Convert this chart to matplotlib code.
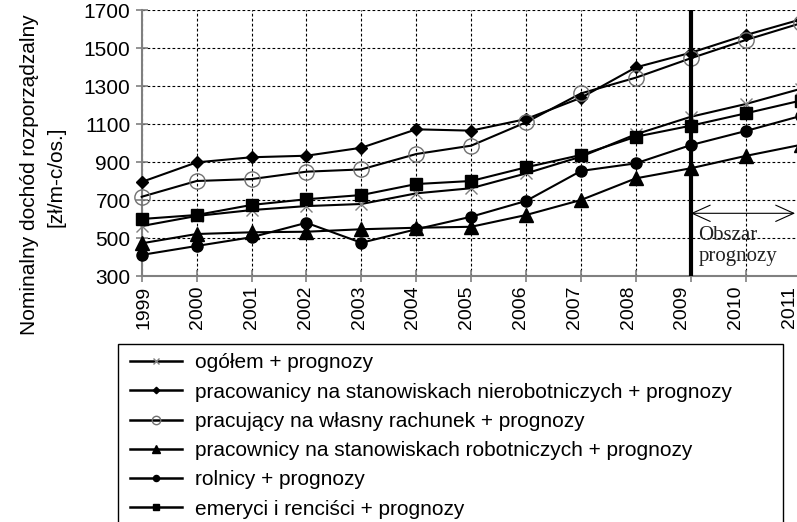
import matplotlib
matplotlib.use("Agg")
import matplotlib.pyplot as plt
import matplotlib.transforms as mtransforms
from matplotlib.patches import Rectangle
from matplotlib.lines import Line2D

years = [1999, 2000, 2001, 2002, 2003, 2004, 2005, 2006, 2007, 2008, 2009, 2010, 2011]
ogolem = [563, 616, 647, 668, 679, 735, 762, 840, 928, 1046, 1138, 1205, 1285]
nierobotnicy = [795, 898, 925, 933, 975, 1072, 1065, 1126, 1238, 1398, 1475, 1568, 1650]
wlasny = [717, 800, 810, 849, 861, 942, 986, 1109, 1261, 1344, 1446, 1542, 1630]
robotnicy = [472, 521, 530, 533, 546, 554, 559, 621, 700, 814, 867, 932, 990]
rolnicy = [411, 458, 504, 580, 475, 546, 612, 695, 853, 893, 989, 1063, 1142]
emeryci = [600, 621, 674, 704, 726, 784, 800, 872, 937, 1033, 1091, 1156, 1223]
labels = [
    "ogółem + prognozy",
    "pracowanicy na stanowiskach nierobotniczych + prognozy",
    "pracujący na własny rachunek + prognozy",
    "pracownicy na stanowiskach robotniczych + prognozy",
    "rolnicy + prognozy",
    "emeryci i renciści + prognozy",
]
yticks = [300, 500, 700, 900, 1100, 1300, 1500, 1700]
forecast_year = 2009

W, H = 797, 522
fig = plt.figure(figsize=(W / 100, H / 100), dpi=100)
plt.rcParams['font.family'] = ['Liberation Sans', 'DejaVu Sans']

left_px, right_px = 141.7, 800.6
top_px, bottom_px = 10, 276
ax = fig.add_axes([left_px / W, 1 - bottom_px / H, (right_px - left_px) / W, (bottom_px - top_px) / H])
ax.set_xlim(years[0], years[-1])
ax.set_ylim(yticks[0], yticks[-1])

styles = [
    dict(marker='x', ms=9, mec='#808080', mfc='#808080', mew=1.0),
    dict(marker='D', ms=6, mec='black', mfc='black'),
    dict(marker='o', ms=11, mec='#707070', mfc='none', mew=1.0),
    dict(marker='^', ms=10, mec='black', mfc='black'),
    dict(marker='o', ms=8, mec='black', mfc='black'),
    dict(marker='s', ms=8.5, mec='black', mfc='black'),
]
series = [ogolem, nierobotnicy, wlasny, robotnicy, rolnicy, emeryci]
handles = []
for vals, st, lab in zip(series, styles, labels):
    ax.plot(years, vals, color='black', lw=1.5, zorder=3, clip_on=False, **st)
    hs = dict(st)
    hs['ms'] = st['ms'] * 0.55
    handles.append(Line2D([], [], color='black', lw=1.8, label=lab, **hs))

ax.set_xticks(years)
ax.set_yticks(yticks)
ax.set_xticklabels([str(y) for y in years], rotation=90, fontsize=14)
ax.set_yticklabels([str(v) for v in yticks], fontsize=15)
ax.grid(True, color='black', linestyle=(0, (2.5, 2)), lw=0.8)
ax.set_axisbelow(True)
for s in ['top', 'right']:
    ax.spines[s].set_visible(False)
for s in ['left', 'bottom']:
    ax.spines[s].set_color('#808080')
    ax.spines[s].set_linewidth(1.5)
ax.tick_params(axis='both', direction='inout', length=8, color='#808080', width=1.2)
ax.tick_params(axis='y', pad=4)
ax.tick_params(axis='x', pad=3)

# tick label spacing slightly tighter than the ticks (as in reference)
for k, lab in enumerate(ax.get_xticklabels()):
    dx = (2.5 - 1.15 * k) / 100.0
    lab.set_transform(lab.get_transform() + mtransforms.ScaledTranslation(dx, 0, fig.dpi_scale_trans))

# forecast marker
ax.axvline(forecast_year, color='black', lw=3, zorder=4)
ax.annotate('', xy=(forecast_year, 630), xytext=(2010.9, 630),
            arrowprops=dict(arrowstyle='<->,head_length=1.0,head_width=0.45', lw=0.8, color='black',
                            shrinkA=0, shrinkB=0, mutation_scale=13), annotation_clip=False)
ax.text(forecast_year + 0.14, 565, 'Obszar\nprognozy', family='Liberation Serif', fontsize=15,
        ha='left', va='top', linespacing=1.2, color='#222222', zorder=5)

# y label
fig.text(30 / W, 1 - 175 / H, 'Nominalny dochód rozporządzalny', rotation=90, ha='center', va='center', fontsize=15)
fig.text(56 / W, 1 - 177 / H, '[zł/m-c/os.]', rotation=90, ha='center', va='center', fontsize=15)

# legend box
fig.patches.append(Rectangle((118 / W, -0.05), (783 - 118) / W, 1 - 344 / H + 0.05,
                             transform=fig.transFigure, fill=False, ec='black', lw=1.0))
leg = fig.legend(handles=handles, loc='upper left', bbox_to_anchor=(130 / W, 1 - 353.5 / H),
                 frameon=False, fontsize=15, handlelength=2.5, handletextpad=0.6,
                 borderpad=0, borderaxespad=0, labelspacing=0.49)

fig.savefig('out.png', dpi=100)
